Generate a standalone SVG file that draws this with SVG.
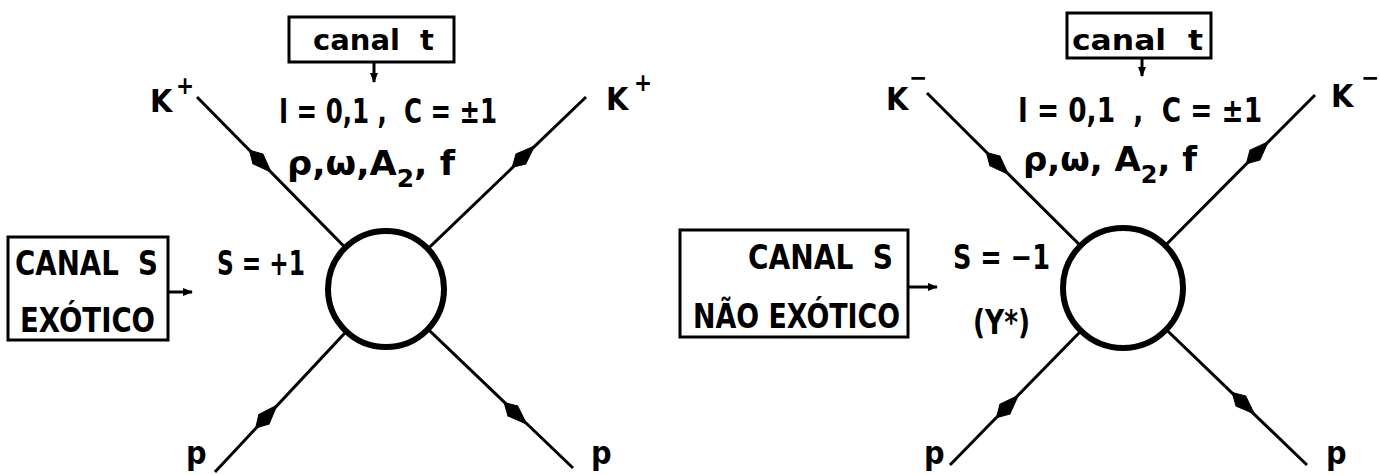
<svg xmlns="http://www.w3.org/2000/svg" width="1380" height="475" viewBox="0 0 1380 475">
<style>
  text { font-family: "Liberation Sans Narrow", "DejaVu Sans Condensed", "Liberation Sans", sans-serif; font-weight: bold; fill: #000; }
  .big { font-size: 34px; }
  .lbl { font-size: 32px; }
  .sup { font-size: 24px; }
  .small { font-size: 29px; }
  .box { fill: none; stroke: #000; stroke-width: 3; }
  .prop { fill: none; stroke: #000; stroke-width: 3; }
  .ptr { fill: none; stroke: #000; stroke-width: 3; marker-end: url(#tip); }
  .blob { fill: #fff; stroke: #000; stroke-width: 6; }
  .head { fill: #000; stroke: #000; stroke-width: 1; stroke-linejoin: round; }
</style>
<defs>
  <path id="arrowhead" class="head" d="M16,0 L-3,-7 L-15,0 L-3,7 Z"/>
  <marker id="tip" markerUnits="userSpaceOnUse" viewBox="-10 -5 12 10" markerWidth="12" markerHeight="10" refX="0" refY="0" orient="auto">
    <path d="M1,0 L-9,-4 L-9,4 Z" fill="#000"/>
  </marker>
</defs>
<rect width="1380" height="475" fill="#fff"/>

<g id="connectors">
  <!-- left diagram -->
  <line class="prop" x1="197" y1="97" x2="386" y2="289"/>
  <line class="prop" x1="386" y1="289" x2="586" y2="97"/>
  <line class="prop" x1="215" y1="472" x2="386" y2="289"/>
  <line class="prop" x1="386" y1="289" x2="573" y2="468"/>
  <use href="#arrowhead" transform="translate(260,161) rotate(45.5)"/>
  <use href="#arrowhead" transform="translate(523,157) rotate(-43.8)"/>
  <use href="#arrowhead" transform="translate(266,417) rotate(-47)"/>
  <use href="#arrowhead" transform="translate(515,413) rotate(43.7)"/>
  <line class="ptr" x1="374" y1="62" x2="374" y2="82"/>
  <line class="ptr" x1="168" y1="292" x2="192" y2="292"/>
  <!-- right diagram -->
  <line class="prop" x1="927" y1="93" x2="1123" y2="288"/>
  <line class="prop" x1="1123" y1="288" x2="1315" y2="95"/>
  <line class="prop" x1="950" y1="465" x2="1123" y2="288"/>
  <line class="prop" x1="1123" y1="288" x2="1307" y2="465"/>
  <use href="#arrowhead" transform="translate(997,163) rotate(44.9)"/>
  <use href="#arrowhead" transform="translate(1257,153) rotate(-45.2)"/>
  <use href="#arrowhead" transform="translate(1007,407) rotate(-45.7)"/>
  <use href="#arrowhead" transform="translate(1243,403) rotate(43.9)"/>
  <line class="ptr" x1="1142" y1="58" x2="1142" y2="76"/>
  <line class="ptr" x1="908" y1="287" x2="937" y2="287"/>
</g>

<g id="left-vertex"><circle class="blob" cx="386" cy="289" r="58"/></g>
<g id="right-vertex"><circle class="blob" cx="1123" cy="288" r="60"/></g>

<g id="left-canal-t">
  <rect class="box" x="289" y="17" width="165" height="45"/>
  <text class="small" x="313" y="50" textLength="121" lengthAdjust="spacingAndGlyphs" xml:space="preserve">canal  t</text>
</g>
<g id="left-t-info">
  <text class="big" x="279" y="123" textLength="218" lengthAdjust="spacingAndGlyphs" xml:space="preserve">I = 0,1 ,  C = ±1</text>
  <text class="big" x="287" y="175" textLength="168" lengthAdjust="spacingAndGlyphs">ρ,ω,A<tspan dy="12" class="sup">2</tspan><tspan dy="-12">,  f</tspan></text>
</g>
<g id="left-k-in"><text class="lbl" x="150" y="112">K</text><text class="sup" x="176" y="94">+</text></g>
<g id="left-k-out"><text class="lbl" x="606" y="110">K</text><text class="sup" x="634" y="91">+</text></g>
<g id="left-p-in"><text class="lbl" x="186" y="464">p</text></g>
<g id="left-p-out"><text class="lbl" x="591" y="464">p</text></g>
<g id="left-canal-s">
  <rect class="box" x="8" y="237" width="160" height="103"/>
  <text class="big" x="15" y="275" textLength="143" lengthAdjust="spacingAndGlyphs" xml:space="preserve">CANAL  S</text>
  <text class="big" x="20" y="332" textLength="135" lengthAdjust="spacingAndGlyphs">EXÓTICO</text>
</g>
<g id="left-s-info"><text class="big" x="217" y="275" textLength="88" lengthAdjust="spacingAndGlyphs">S = +1</text></g>

<g id="right-canal-t">
  <rect class="box" x="1067" y="13" width="144" height="45"/>
  <text class="small" x="1072" y="50" textLength="131" lengthAdjust="spacingAndGlyphs" xml:space="preserve">canal  t</text>
</g>
<g id="right-t-info">
  <text class="big" x="1018" y="122" textLength="244" lengthAdjust="spacingAndGlyphs" xml:space="preserve">I = 0,1  ,  C = ±1</text>
  <text class="big" x="1023" y="171" textLength="174" lengthAdjust="spacingAndGlyphs">ρ,ω, A<tspan dy="12" class="sup">2</tspan><tspan dy="-12">,  f</tspan></text>
</g>
<g id="right-k-in"><text class="lbl" x="886" y="110">K</text><text class="sup" x="909" y="86">−</text></g>
<g id="right-k-out"><text class="lbl" x="1331" y="107">K</text><text class="sup" x="1361" y="86">−</text></g>
<g id="right-p-in"><text class="lbl" x="924" y="464">p</text></g>
<g id="right-p-out"><text class="lbl" x="1326" y="464">p</text></g>
<g id="right-canal-s">
  <rect class="box" x="680" y="230" width="228" height="107"/>
  <text class="big" x="748" y="269" textLength="145" lengthAdjust="spacingAndGlyphs" xml:space="preserve">CANAL  S</text>
  <text class="big" x="693" y="328" textLength="207" lengthAdjust="spacingAndGlyphs">NÃO EXÓTICO</text>
</g>
<g id="right-s-info">
  <text class="big" x="953" y="269" textLength="97" lengthAdjust="spacingAndGlyphs">S = −1</text>
  <text class="big" x="973" y="334" textLength="57" lengthAdjust="spacingAndGlyphs">(Y*)</text>
</g>
</svg>
